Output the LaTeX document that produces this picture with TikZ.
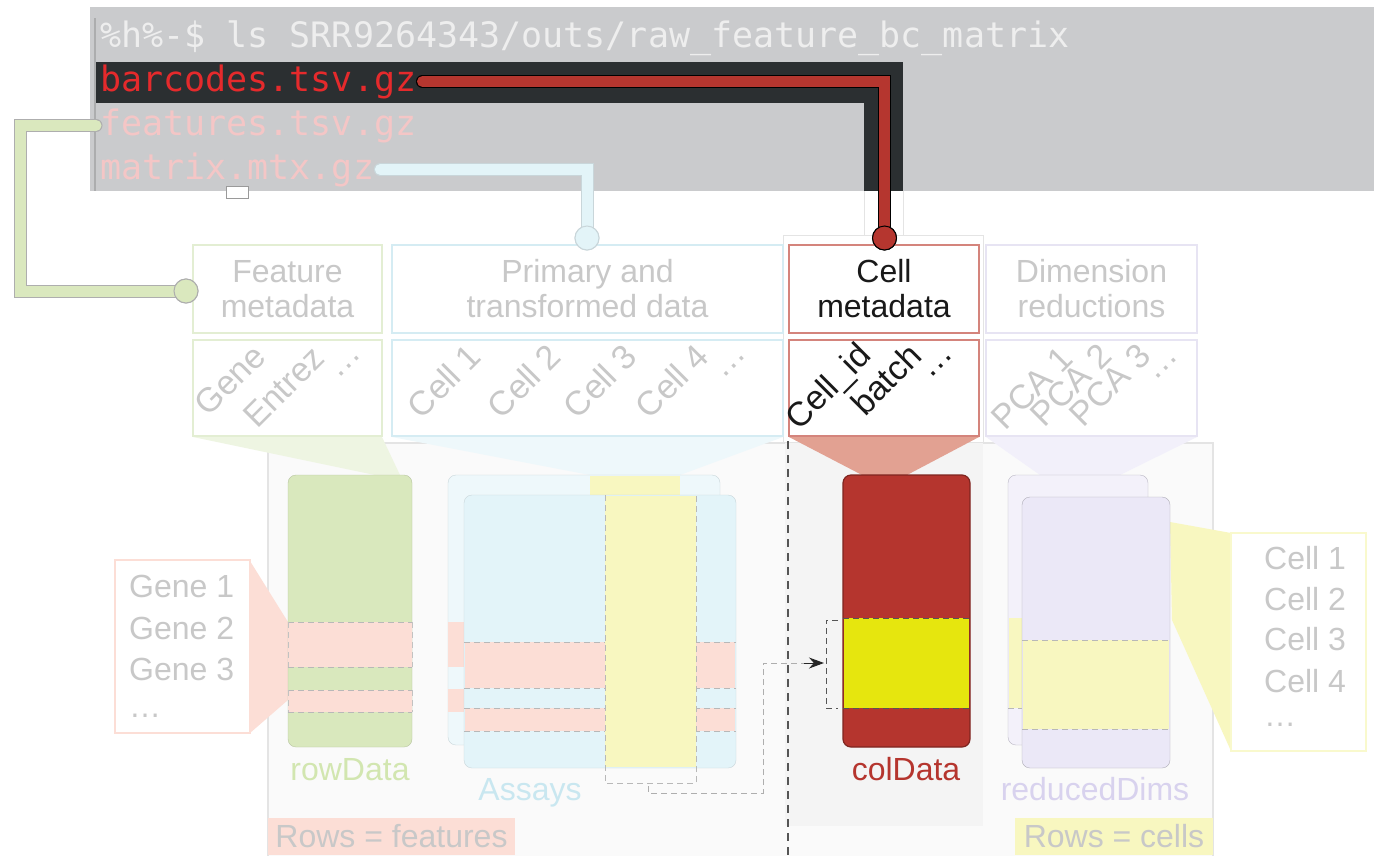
\documentclass[tikz,border=0pt]{standalone}
\usepackage{fontspec}
\setmainfont{Liberation Sans}
\newfontfamily\termmono{DejaVu Sans Mono}
\usetikzlibrary{arrows.meta}
\definecolor{termgray}{HTML}{CACBCD}
\definecolor{termdark}{HTML}{2B2F31}
\definecolor{cmdtxt}{HTML}{EEEEEE}
\definecolor{bcred}{HTML}{E52A2C}
\definecolor{fadedpink}{HTML}{F4C6C6}
\definecolor{conred}{HTML}{B5362F}
\definecolor{congreen}{HTML}{DAE8BE}
\definecolor{conblue}{HTML}{E3F4F8}
\definecolor{fadetxt}{HTML}{C8C8C8}
\definecolor{grnbord}{HTML}{E3EED3}
\definecolor{bluebord}{HTML}{D5ECF3}
\definecolor{redbord}{HTML}{D4847C}
\definecolor{lavbord}{HTML}{E7E4F3}
\definecolor{rowgreen}{HTML}{D9E8BD}
\definecolor{salmon}{HTML}{FCDED6}
\definecolor{assayback}{HTML}{EEF8FB}
\definecolor{assayfront}{HTML}{E3F4F9}
\definecolor{paleyellow}{HTML}{F8F7C0}
\definecolor{coldred}{HTML}{B5352E}
\definecolor{brightyellow}{HTML}{E6E60E}
\definecolor{lavfill}{HTML}{EBE8F7}
\definecolor{lavback}{HTML}{F3F1FA}
\definecolor{panelgray}{HTML}{F4F4F4}
\definecolor{funnelred}{HTML}{E2A192}
\definecolor{funnelgreen}{HTML}{EEF5E2}
\definecolor{funnelblue}{HTML}{EEF8FB}
\definecolor{funnellav}{HTML}{F2F0FA}
\definecolor{contbord}{HTML}{E4E4E4}
\definecolor{rowtxt}{HTML}{D2E6B0}
\definecolor{assaytxt}{HTML}{C9E7F0}
\definecolor{redtxt}{HTML}{D8D2EE}
\definecolor{softgray}{HTML}{9A9A9A}
\definecolor{darkdash}{HTML}{555555}
\definecolor{rectbord}{HTML}{C9D6DA}
\newcommand\hdrfont{\fontsize{32}{35}\selectfont}
\newcommand\rotfont{\fontsize{34}{34}\selectfont}
\newcommand\termfont{\termmono\fontsize{35}{44}\selectfont}
\begin{document}
\begin{tikzpicture}[x=1pt,y=-1pt,
  every node/.style={inner sep=0pt},
  hbox/.style={draw, line width=1.5pt, fill=white},
  conn/.style={line width=1pt, double distance=11pt, line cap=round, line join=miter},
  dsh/.style={dash pattern=on 6pt off 4pt, line width=1pt},
  rlab/.style={rotate=45, font=\rotfont, anchor=center},
  tlab/.style={font=\hdrfont, anchor=base},
  endcirc/.style={circle, minimum size=24pt, line width=1pt},
]
\useasboundingbox (0,0) rectangle (1374,855);
\fill[white] (0,0) rectangle (1374,855);

% ---------- terminal ----------
\fill[termgray] (90,7) rectangle (1374,191);
\draw[termgray!85!black, line width=1.5pt] (95,18) -- (95,191);
\fill[termdark] (96,62) rectangle (903,103);
\fill[termdark] (864,62) rectangle (903,191);
\draw[contbord] (864,191) -- (864,236) (903,191) -- (903,236);
\draw[softgray, fill=white] (226,186) rectangle (248,198);

\node[font=\termfont, text=cmdtxt, anchor=base west] (cmd) at (100,47) {\%h\%-\$ ls SRR9264343/outs/raw\_feature\_bc\_matrix};
\node[font=\termfont, text=bcred, anchor=base west] (bc) at (100,91) {barcodes.tsv.gz};
\node[font=\termfont, text=fadedpink, anchor=base west] (feat) at (100,135) {features.tsv.gz};
\node[font=\termfont, text=fadedpink, anchor=base west] (mat) at (100,179) {matrix.mtx.gz};

% ---------- header boxes ----------
\draw[contbord] (783,235) rectangle (983,443);
\node[hbox, draw=grnbord, minimum width=189pt, minimum height=88pt, text=fadetxt, align=center, font=\hdrfont] (fmeta) at (287.5,289) {Feature\\metadata};
\node[hbox, draw=bluebord, minimum width=391pt, minimum height=88pt, text=fadetxt, align=center, font=\hdrfont] (pdata) at (587.5,289) {Primary and\\transformed data};
\node[hbox, draw=redbord, minimum width=190pt, minimum height=88pt, text=black!90, align=center, font=\hdrfont] (cmeta) at (884,289) {Cell\\metadata};
\node[hbox, draw=lavbord, minimum width=211pt, minimum height=88pt, text=fadetxt, align=center, font=\hdrfont] (dred) at (1091.5,289) {Dimension\\reductions};

\node[hbox, draw=grnbord, minimum width=189pt, minimum height=96pt] (fmcols) at (287.5,388) {};
\node[hbox, draw=bluebord, minimum width=391pt, minimum height=96pt] (pdcols) at (587.5,388) {};
\node[hbox, draw=redbord, minimum width=190pt, minimum height=96pt] (cmcols) at (884,388) {};
\node[hbox, draw=lavbord, minimum width=211pt, minimum height=96pt] (drcols) at (1091.5,388) {};

\node[rlab, text=fadetxt] (lgene) at (230,380) {Gene};
\node[rlab, text=fadetxt] (lentrez) at (284,387) {Entrez};
\node[rlab, text=fadetxt] (ldots1) at (349,366) {…};
\node[rlab, text=fadetxt] (lc1) at (444,381) {Cell 1};
\node[rlab, text=fadetxt] (lc2) at (524,381) {Cell 2};
\node[rlab, text=fadetxt] (lc3) at (600,381) {Cell 3};
\node[rlab, text=fadetxt] (lc4) at (672,381) {Cell 4};
\node[rlab, text=fadetxt] (ldots2) at (734,366) {…};
\node[rlab, text=black!90] (lcid) at (830,388) {Cell\_id};
\node[rlab, text=black!90] (lbatch) at (886,379) {batch};
\node[rlab, text=black!90] (ldots3) at (941,366) {…};
\node[rlab, text=fadetxt] (lpca1) at (1032,388) {PCA 1};
\node[rlab, text=fadetxt] (lpca2) at (1071,385) {PCA 2};
\node[rlab, text=fadetxt] (lpca3) at (1110,385) {PCA 3};
\node[rlab, text=fadetxt] (ldots4) at (1166,368) {…};

% ---------- container ----------
\draw[contbord, line width=1.5pt, fill=white!98!black] (268,443) rectangle (1213,862);
\fill[panelgray] (785,443) rectangle (983,826);

% funnels
\fill[funnelgreen] (193,437) -- (382,437) -- (400,475) -- (375,475) -- cycle;
\fill[funnelblue] (392,437) -- (783,437) -- (680,475) -- (590,475) -- cycle;
\fill[funnelred] (789,437) -- (979,437) -- (907,475) -- (862,475) -- cycle;
\fill[funnellav] (986,437) -- (1197,437) -- (1120,475) -- (1040,475) -- cycle;

\draw[darkdash, dash pattern=on 8pt off 6pt, line width=1.2pt] (788,441) -- (788,860);

% gene list
\fill[salmon] (250,561) -- (288,622) -- (288,700) -- (250,733) -- cycle;
\node[draw=salmon, line width=1.5pt, fill=white, minimum width=135pt, minimum height=173pt] (genebox) at (182.5,646.5) {};
\node[font=\hdrfont, text=fadetxt, anchor=base west] (g1) at (129,597) {Gene 1};
\node[font=\hdrfont, text=fadetxt, anchor=base west] (g2) at (129,639) {Gene 2};
\node[font=\hdrfont, text=fadetxt, anchor=base west] (g3) at (129,680) {Gene 3};
\node[font=\hdrfont, text=fadetxt, anchor=base west] (g4) at (129,717) {…};

% rowData
\filldraw[fill=rowgreen, draw=rowgreen!85!black, rounded corners=8pt] (288,475) rectangle (412,747);
\fill[salmon] (288,622) rectangle (412,667);
\fill[salmon] (288,690) rectangle (412,712);
\draw[dsh, softgray!70] (288,622) -- (412,622) (288,667) -- (412,667) (288,690) -- (412,690) (288,712) -- (412,712);
\draw[dsh, softgray!60] (288,622) -- (288,667) (412,622) -- (412,667) (288,690) -- (288,712) (412,690) -- (412,712);
\node[tlab, text=rowtxt] (rdlab) at (350,780) {rowData};

% Assays
\filldraw[fill=assayback, draw=rectbord, rounded corners=8pt] (448,475) rectangle (720,745);
\fill[paleyellow] (590,476) rectangle (680,495);
\fill[salmon] (448,622) rectangle (464,667);
\fill[salmon] (448,689) rectangle (464,712);
\filldraw[fill=assayfront, draw=rectbord, rounded corners=8pt] (464,495) rectangle (736,768);
\fill[salmon] (465,642) rectangle (735,688);
\fill[salmon] (465,708) rectangle (735,731);
\draw[dsh, softgray!70] (464,642) -- (736,642) (464,688) -- (736,688) (464,708) -- (736,708) (464,731) -- (736,731);
\fill[paleyellow] (605,496) rectangle (696,767);
\draw[dsh, softgray!70] (605,495) -- (605,783) -- (696,783) -- (696,495);
\node[tlab, text=assaytxt] (aslab) at (530,800) {Assays};

% dashed link to colData
\coordinate (dstart) at (648,786);
\coordinate (dtip) at (824,663);
\draw[dsh, softgray!80] (dstart) -- (648,793) -- (763,793) -- (763,663) -- (806,663);
\draw[-{Stealth[length=15pt,width=11pt]}, black!85, line width=1pt] (804,663) -- (dtip);

% colData
\filldraw[fill=coldred, draw=coldred!70!black, line width=1.2pt, rounded corners=8pt] (843,475) rectangle (970,747);
\fill[brightyellow] (843.6,618) rectangle (969.4,708);
\draw[dsh, darkdash] (843,618) -- (970,618) (843,708) -- (970,708);
\draw[dsh, darkdash] (838,620) -- (826,620) -- (826,708) -- (838,708);
\node[tlab, text=coldred] (cdlab) at (906,780) {colData};

% reducedDims
\fill[paleyellow] (1170,522) -- (1231,533) -- (1231,751) -- (1172,620) -- cycle;
\filldraw[fill=lavback, draw=lavbord!80!black, rounded corners=8pt] (1008,475) rectangle (1148,745);
\fill[paleyellow] (1009,618) rectangle (1022,708);
\filldraw[fill=lavfill, draw=lavbord!75!black, rounded corners=8pt] (1022,497) rectangle (1170,768);
\fill[paleyellow] (1023,640) rectangle (1169,729);
\draw[dsh, softgray!70] (1022,640) -- (1170,640) (1022,729) -- (1170,729) (1008,708) -- (1022,708);
\node[tlab, text=redtxt] (rdmlab) at (1095,800) {reducedDims};

% cell list
\node[draw=paleyellow!80!white, line width=1.5pt, fill=white, minimum width=135pt, minimum height=218pt] (cellbox) at (1298.5,642) {};
\node[font=\hdrfont, text=fadetxt, anchor=base west] (c1) at (1264,569) {Cell 1};
\node[font=\hdrfont, text=fadetxt, anchor=base west] (c2) at (1264,610) {Cell 2};
\node[font=\hdrfont, text=fadetxt, anchor=base west] (c3) at (1264,650) {Cell 3};
\node[font=\hdrfont, text=fadetxt, anchor=base west] (c4) at (1264,692) {Cell 4};
\node[font=\hdrfont, text=fadetxt, anchor=base west] (c5) at (1264,726) {…};

% bottom labels
\node[fill=salmon, minimum width=247pt, minimum height=37pt, font=\hdrfont, text=fadetxt] (rowsf) at (391.5,836.5) {Rows = features};
\node[fill=paleyellow, minimum width=198pt, minimum height=37pt, font=\hdrfont, text=fadetxt] (rowsc) at (1114,836.5) {Rows = cells};

% ---------- connectors ----------
\node[endcirc, draw=softgray!80, fill=congreen] (gcirc) at (186,291) {};
\node[endcirc, draw=rectbord, fill=conblue] (bcirc) at (587,238) {};
\node[endcirc, draw=black, fill=conred] (rcirc) at (884.5,238) {};
\coordinate (gcorner) at (20,291);
\draw[conn, draw=softgray!80, double=congreen] ([xshift=-4pt]feat.west) -| (gcorner) -- (gcirc.center);
\draw[conn, draw=rectbord, double=conblue] ([xshift=6pt]mat.east) -| (bcirc.center);
\draw[conn, draw=black, double=conred] ([xshift=6pt]bc.east) -| (rcirc.center);
\node[endcirc, draw=softgray!80, fill=congreen] at (gcirc) {};
\node[endcirc, draw=rectbord, fill=conblue] at (bcirc) {};
\node[endcirc, draw=black, fill=conred] at (rcirc) {};
\end{tikzpicture}
\end{document}
